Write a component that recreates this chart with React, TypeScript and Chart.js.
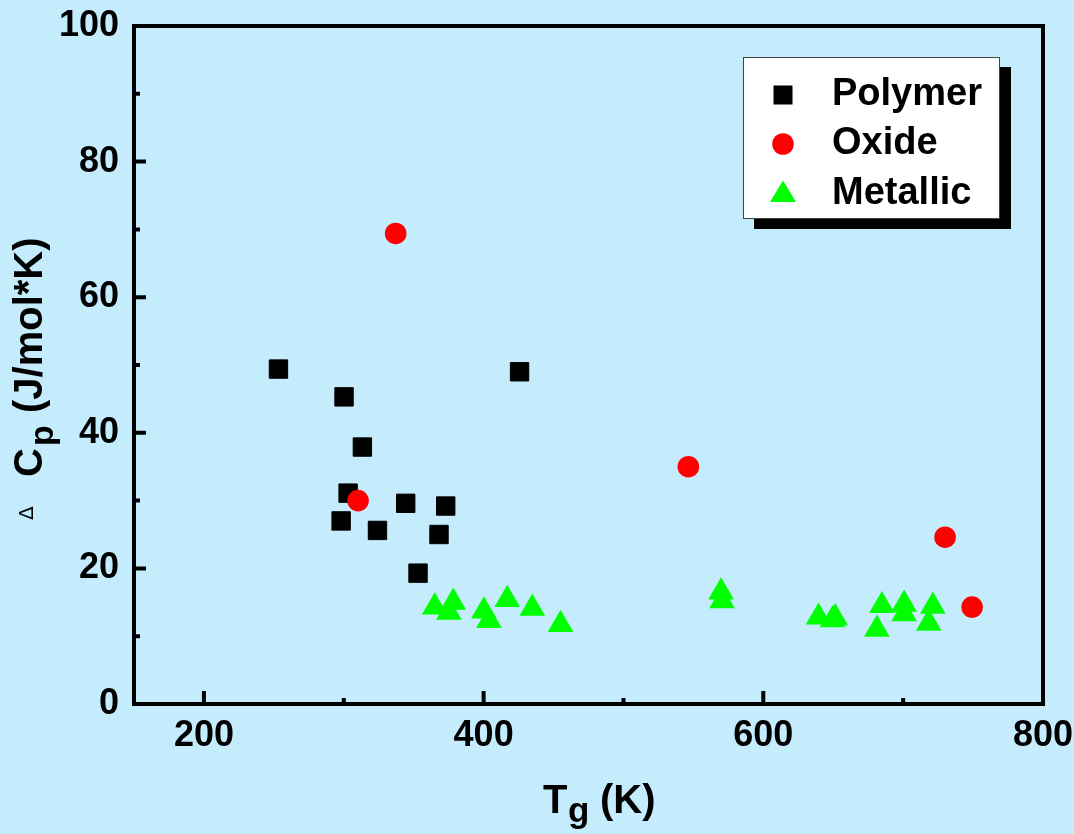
import React, { useEffect, useRef } from 'react';
import { Chart, registerables } from 'chart.js';

Chart.register(...registerables);

const seriesLabels = ['Polymer', 'Oxide', 'Metallic'];

const polymerT = [253.3, 300.2, 313.3, 303.1, 298.1, 324.1, 344.3, 372.9, 368.1, 353.1, 425.7];
const polymerCp = [49.4, 45.3, 37.9, 31.1, 27.0, 25.6, 29.6, 29.2, 25.0, 19.3, 49.0];

const oxideT = [337.1, 310.2, 546.4, 730.0, 749.3];
const oxideCp = [69.4, 30.0, 35.0, 24.6, 14.3];

const metallicT = [365.0, 378.3, 375.2, 400.2, 403.8, 416.9, 434.8, 455.0, 569.8, 570.5, 639.5, 651.4, 649.5, 684.8, 681.2, 700.7, 700.7, 721.2, 718.3];
const metallicCp = [14.3, 15.0, 13.5, 13.7, 12.3, 15.4, 14.1, 11.7, 16.5, 15.2, 12.8, 12.7, 12.4, 14.5, 11.0, 14.7, 13.3, 14.4, 11.9];

const xMajorTicks = [200, 400, 600, 800];
const xMinorTicks = [300, 500, 700];
const yMajorTicks = [0, 20, 40, 60, 80, 100];
const yMinorTicks = [10, 30, 50, 70, 90];

const BG = 'rgb(196, 236, 252)';
const FONT = '"Liberation Sans", Arial, Helvetica, sans-serif';

const toPoints = (xs: number[], ys: number[]) => xs.map((x, i) => ({ x, y: ys[i] }));

const decorPlugin = {
  id: 'decor',
  beforeDraw(chart: any) {
    const { ctx, width, height } = chart;
    ctx.save();
    ctx.fillStyle = BG;
    ctx.fillRect(0, 0, width, height);
    ctx.restore();
  },
  afterDraw(chart: any) {
    const { ctx, chartArea: a, scales } = chart;
    const xs = scales.x;
    const ys = scales.y;
    ctx.save();
    // frame
    ctx.strokeStyle = '#000';
    ctx.lineWidth = 4;
    ctx.lineJoin = 'miter';
    ctx.strokeRect(a.left, a.top, a.right - a.left, a.bottom - a.top);
    // inward ticks
    ctx.beginPath();
    xMajorTicks.forEach((v) => {
      const p = xs.getPixelForValue(v);
      ctx.moveTo(p, a.bottom);
      ctx.lineTo(p, a.bottom - 13);
    });
    xMinorTicks.forEach((v) => {
      const p = xs.getPixelForValue(v);
      ctx.moveTo(p, a.bottom);
      ctx.lineTo(p, a.bottom - 6);
    });
    yMajorTicks.forEach((v) => {
      const p = ys.getPixelForValue(v);
      ctx.moveTo(a.left, p);
      ctx.lineTo(a.left + 12, p);
    });
    yMinorTicks.forEach((v) => {
      const p = ys.getPixelForValue(v);
      ctx.moveTo(a.left, p);
      ctx.lineTo(a.left + 6, p);
    });
    ctx.stroke();

    // x title
    ctx.fillStyle = '#000';
    ctx.textAlign = 'left';
    ctx.textBaseline = 'alphabetic';
    ctx.font = `bold 40px ${FONT}`;
    ctx.fillText('T', 543, 813);
    ctx.font = `bold 35px ${FONT}`;
    ctx.fillText('g', 568, 822);
    ctx.font = `bold 40px ${FONT}`;
    ctx.fillText('(K)', 600, 813);

    // y title
    ctx.save();
    ctx.translate(42, 477);
    ctx.rotate(-Math.PI / 2);
    ctx.font = `20px "DejaVu Sans", sans-serif`;
    ctx.fillText('Δ', -43, -9);
    ctx.font = `bold 40px ${FONT}`;
    ctx.fillText('C', 0, 0);
    ctx.font = `bold 34px ${FONT}`;
    ctx.fillText('p', 31, 11);
    ctx.font = `bold 40px ${FONT}`;
    ctx.fillText('(J/mol*K)', 64, 0);
    ctx.restore();

    // legend
    const lx = 743, ly = 57, lw = 257, lh = 162;
    ctx.fillStyle = '#000';
    ctx.fillRect(lx + 11, ly + 10, lw, lh);
    ctx.fillStyle = '#fff';
    ctx.fillRect(lx, ly, lw, lh);
    ctx.strokeStyle = '#444';
    ctx.lineWidth = 1;
    ctx.strokeRect(lx + 0.5, ly + 0.5, lw - 1, lh - 1);

    const mx = 783;
    const ds = chart.data.datasets;
    // square
    ctx.fillStyle = ds[0].backgroundColor;
    ctx.fillRect(mx - 9.5, 95 - 9.5, 19, 19);
    // circle
    ctx.fillStyle = ds[1].backgroundColor;
    ctx.beginPath();
    ctx.arc(mx, 144, 10.8, 0, Math.PI * 2);
    ctx.fill();
    // triangle
    ctx.fillStyle = ds[2].backgroundColor;
    ctx.beginPath();
    ctx.moveTo(mx, 180.5);
    ctx.lineTo(mx + 13, 202);
    ctx.lineTo(mx - 13, 202);
    ctx.closePath();
    ctx.fill();

    ctx.fillStyle = '#000';
    ctx.font = `bold 38px ${FONT}`;
    ctx.fillText(ds[0].label, 832, 105);
    ctx.fillText(ds[1].label, 832, 154);
    ctx.fillText(ds[2].label, 832, 204);
    ctx.restore();
  },
};

export default function App() {
  const canvasRef = useRef<HTMLCanvasElement | null>(null);

  useEffect(() => {
    document.body.style.margin = '0';
    document.body.style.background = BG;
    const canvas = canvasRef.current;
    if (!canvas) return;
    const chart = new Chart(canvas, {
      type: 'scatter',
      data: {
        datasets: [
          {
            label: seriesLabels[0],
            data: toPoints(polymerT, polymerCp),
            pointStyle: 'rect',
            pointRadius: 13,
            pointHoverRadius: 13,
            backgroundColor: '#000000',
            borderColor: '#000000',
            borderWidth: 1,
            order: 1,
          },
          {
            label: seriesLabels[1],
            data: toPoints(oxideT, oxideCp),
            pointStyle: 'circle',
            pointRadius: 10.8,
            pointHoverRadius: 10.8,
            backgroundColor: '#ff0000',
            borderColor: '#ff0000',
            borderWidth: 0,
            order: 0,
          },
          {
            label: seriesLabels[2],
            data: toPoints(metallicT, metallicCp),
            pointStyle: 'triangle',
            pointRadius: 14.8,
            pointHoverRadius: 14.8,
            backgroundColor: '#00ff00',
            borderColor: '#00ff00',
            borderWidth: 0,
            order: 2,
          },
        ],
      },
      options: {
        animation: false,
        responsive: true,
        maintainAspectRatio: false,
        events: [],
        layout: { padding: { left: 0, top: 26, right: 31, bottom: 0 } },
        plugins: {
          legend: { display: false },
          tooltip: { enabled: false },
          title: { display: false },
        },
        scales: {
          x: {
            type: 'linear',
            min: 150,
            max: 800,
            grid: { display: false, drawTicks: false },
            border: { display: false },
            afterBuildTicks: (scale: any) => {
              scale.ticks = xMajorTicks.map((v) => ({ value: v }));
            },
            afterFit: (scale: any) => {
              scale.height = 130;
              scale.paddingLeft = 0;
              scale.paddingRight = 0;
              scale.paddingTop = 0;
              scale.paddingBottom = 0;
            },
            ticks: {
              color: '#000',
              padding: 10,
              maxRotation: 0,
              autoSkip: false,
              font: { family: FONT, size: 36, weight: 'bold' },
            },
          },
          y: {
            type: 'linear',
            min: 0,
            max: 100,
            grid: { display: false, drawTicks: false },
            border: { display: false },
            afterBuildTicks: (scale: any) => {
              scale.ticks = yMajorTicks.map((v) => ({ value: v }));
            },
            afterFit: (scale: any) => {
              scale.width = 134;
              scale.paddingLeft = 0;
              scale.paddingRight = 0;
              scale.paddingTop = 0;
              scale.paddingBottom = 0;
            },
            ticks: {
              color: '#000',
              padding: 15,
              autoSkip: false,
              font: { family: FONT, size: 36, weight: 'bold' },
            },
          },
        },
      },
      plugins: [decorPlugin],
    } as any);
    return () => chart.destroy();
  }, []);

  return (
    <div style={{ width: 1074, height: 834, position: 'relative' }}>
      <canvas ref={canvasRef} />
    </div>
  );
}
